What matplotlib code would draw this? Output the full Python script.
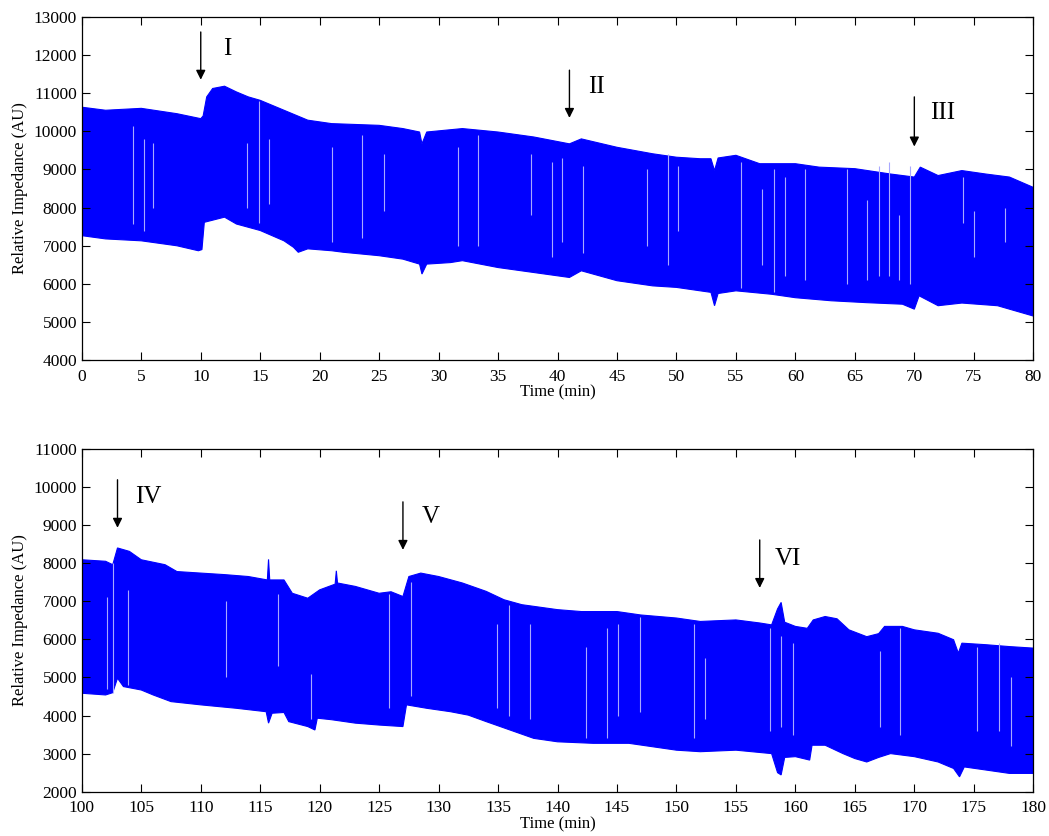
import numpy as np
import matplotlib.pyplot as plt

plt.rcParams['font.family'] = ['Liberation Serif', 'DejaVu Serif']

# ---- panel 1 (0-80 min) envelope of the impedance signal ----
top_up_t = [0, 2, 5, 8, 10, 10.2, 10.5, 11, 12, 13, 14, 15, 17, 19, 21, 25, 27, 28.4, 28.6, 29,
            32, 35, 38, 41, 42, 45, 48, 50, 52, 52.9, 53.2, 53.5, 55, 57, 60, 62, 65, 68, 70,
            70.5, 72, 74, 76, 78, 80]
top_up_v = [10630, 10550, 10600, 10460, 10330, 10400, 10900, 11120, 11180, 11030, 10900, 10810,
            10550, 10290, 10200, 10155, 10070, 9980, 9670, 9980, 10070, 9980, 9850, 9670, 9800,
            9580, 9410, 9320, 9280, 9280, 8970, 9300, 9370, 9150, 9150, 9060, 9020, 8880, 8800,
            9060, 8840, 8970, 8880, 8800, 8530]
top_lo_t = [0, 2, 5, 8, 9.8, 10.1, 10.3, 12, 13, 15, 17, 17.8, 18.2, 19, 21, 22, 25, 27, 28.4,
            28.6, 29, 31, 32, 35, 38, 41, 42, 45, 48, 50, 52, 52.9, 53.2, 53.5, 55, 58, 60, 63,
            66, 69, 70, 70.4, 72, 74, 77, 79, 80]
top_lo_v = [7265, 7180, 7130, 7000, 6870, 6900, 7615, 7750, 7570, 7400, 7130, 6960, 6830, 6920,
            6870, 6830, 6740, 6650, 6520, 6260, 6520, 6560, 6610, 6430, 6300, 6170, 6345, 6085,
            5950, 5910, 5820, 5780, 5430, 5750, 5820, 5730, 5640, 5560, 5510, 5470, 5340, 5690,
            5430, 5500, 5430, 5250, 5160]

# light gaps inside the band: time, low, high
top_gap_t = [4.3, 5.2, 6.0, 13.9, 14.9, 15.7, 21.0, 23.6, 25.4, 31.6, 33.3, 37.8, 39.5, 40.4,
             42.1, 47.5, 49.3, 50.1, 55.4, 57.2, 58.2, 59.1, 60.8, 64.3, 66.0, 67.0, 67.9,
             68.7, 69.6, 74.1, 75.0, 77.6]
top_gap_lo = [7570, 7400, 8000, 8000, 7600, 8100, 7100, 7200, 7900, 7000, 7000, 7800, 6700,
              7100, 6800, 7000, 6500, 7400, 5900, 6500, 5800, 6200, 6100, 6000, 6100, 6200,
              6200, 6100, 6000, 7600, 6700, 7100]
top_gap_hi = [10150, 9800, 9700, 9700, 10800, 9800, 9600, 9900, 9400, 9600, 9900, 9400, 9200,
              9300, 9100, 9000, 9400, 9100, 9200, 8500, 9000, 8800, 9000, 9000, 8200, 9100,
              9200, 7800, 9100, 8800, 7900, 8000]

# ---- panel 2 (100-180 min) ----
bot_up_t = [100, 102, 102.6, 103, 104, 105, 107, 108, 110, 112, 114, 115.6, 115.7, 115.8, 117,
            117.7, 119, 120, 121.3, 121.4, 121.5, 123, 125, 126, 127, 127.5, 128.5, 130, 132,
            134, 135.5, 137, 140, 142, 145, 147, 150, 152, 155, 157, 158, 158.5, 158.8, 159.1,
            160, 161, 161.5, 162.5, 163.5, 164.5, 166, 167, 167.5, 169, 170, 172, 173.3, 173.7,
            174, 176, 178, 180]
bot_up_v = [8090, 8050, 7960, 8400, 8310, 8090, 7960, 7780, 7740, 7700, 7650, 7560, 8100, 7560,
            7560, 7210, 7080, 7300, 7450, 7800, 7480, 7390, 7210, 7250, 7125, 7650, 7740, 7650,
            7480, 7260, 7040, 6910, 6780, 6730, 6730, 6640, 6560, 6470, 6510, 6430, 6380, 6800,
            6970, 6450, 6340, 6290, 6510, 6600, 6540, 6250, 6070, 6150, 6340, 6340, 6250, 6160,
            5990, 5640, 5900, 5860, 5810, 5770]
bot_lo_t = [100, 102, 102.6, 103, 103.5, 105, 106, 107.5, 110, 113, 115.5, 115.7, 116, 117,
            117.4, 119, 119.6, 119.8, 121, 123, 125, 127, 127.3, 129, 131, 132.5, 134, 136, 138,
            140, 143, 146, 148, 150, 152, 155, 158, 158.5, 158.8, 159.1, 160, 161.2, 161.4,
            162.5, 164, 165, 166, 167, 168, 170, 172, 173.3, 173.8, 174.2, 176, 178, 180]
bot_lo_v = [4585, 4540, 4600, 4980, 4760, 4670, 4540, 4365, 4280, 4190, 4100, 3800, 4060, 4080,
            3840, 3710, 3620, 3930, 3890, 3800, 3750, 3710, 4280, 4190, 4100, 4010, 3840, 3620,
            3400, 3310, 3270, 3270, 3180, 3090, 3050, 3090, 3000, 2500, 2440, 2900, 2920, 2830,
            3220, 3220, 3000, 2870, 2780, 2900, 3000, 2920, 2780, 2610, 2390, 2650, 2570, 2480,
            2480]

bot_gap_t = [102.1, 102.6, 103.9, 112.1, 116.5, 119.3, 125.8, 127.7, 134.9, 135.9, 137.7,
             142.4, 144.2, 145.1, 146.9, 151.5, 152.4, 157.9, 158.8, 159.8, 167.1, 168.8,
             175.3, 177.1, 178.1]
bot_gap_lo = [4700, 4600, 4800, 5000, 5300, 3900, 4200, 4500, 4200, 4000, 3900, 3400, 3400,
              4000, 4100, 3400, 3900, 3600, 3700, 3500, 3700, 3500, 3600, 3600, 3200]
bot_gap_hi = [7100, 8000, 7300, 7000, 7200, 5100, 7200, 7500, 6400, 6900, 6400, 5800, 6300,
              6400, 6600, 6400, 5500, 6300, 6100, 5900, 5700, 6300, 5800, 5900, 5000]

# event markers
top_events = ['I', 'II', 'III']
top_event_t = [10, 41, 70]
top_arrow_top = [12600, 11600, 10900]
top_arrow_tip = [11350, 10350, 9600]
top_label_t = [12.2, 43.3, 72.4]
top_label_v = [12150, 11150, 10480]

bot_events = ['IV', 'V', 'VI']
bot_event_t = [103, 127, 157]
bot_arrow_top = [10190, 9610, 8610]
bot_arrow_tip = [8930, 8350, 7350]
bot_label_t = [105.6, 129.3, 159.4]
bot_label_v = [9750, 9200, 8100]

blue = '#0000ff'
gap_col = '#a8a8ff'


def draw_panel(ax, up_t, up_v, lo_t, lo_v, gap_t, gap_lo, gap_hi,
               names, ev_t, ar_top, ar_tip, lab_t, lab_v):
    px = list(up_t) + list(lo_t)[::-1]
    py = list(up_v) + list(lo_v)[::-1]
    ax.fill(px, py, color=blue, lw=0.8, ec=blue)
    ax.vlines(gap_t, gap_lo, gap_hi, colors=gap_col, lw=0.8)
    for n, t, a, b, lt, lv in zip(names, ev_t, ar_top, ar_tip, lab_t, lab_v):
        ax.annotate('', xy=(t, b), xytext=(t, a),
                    arrowprops=dict(arrowstyle='-|>', color='k', lw=1.0,
                                    mutation_scale=14, shrinkA=0, shrinkB=0))
        ax.text(lt, lv, n, fontsize=18, ha='center', va='center')
    ax.tick_params(direction='in', top=True, right=True, length=6,
                   labelsize=12.5, width=0.8)
    ax.tick_params(axis='x', pad=6)
    for s in ax.spines.values():
        s.set_linewidth(0.9)
    ax.set_xlabel('Time (min)', fontsize=12, labelpad=0)
    ax.set_ylabel('Relative Impedance (AU)', fontsize=12, labelpad=4)


fig = plt.figure(figsize=(10.49, 8.36), dpi=100)
ax1 = fig.add_axes([0.078, 0.569, 0.907, 0.411])
ax2 = fig.add_axes([0.078, 0.053, 0.907, 0.410])

draw_panel(ax1, top_up_t, top_up_v, top_lo_t, top_lo_v, top_gap_t, top_gap_lo, top_gap_hi,
           top_events, top_event_t, top_arrow_top, top_arrow_tip, top_label_t, top_label_v)
ax1.set_xlim(0, 80)
ax1.set_ylim(4000, 13000)
ax1.set_xticks(np.arange(0, 81, 5))
ax1.set_yticks(np.arange(4000, 13001, 1000))

draw_panel(ax2, bot_up_t, bot_up_v, bot_lo_t, bot_lo_v, bot_gap_t, bot_gap_lo, bot_gap_hi,
           bot_events, bot_event_t, bot_arrow_top, bot_arrow_tip, bot_label_t, bot_label_v)
ax2.set_xlim(100, 180)
ax2.set_ylim(2000, 11000)
ax2.set_xticks(np.arange(100, 181, 5))
ax2.set_yticks(np.arange(2000, 11001, 1000))

fig.savefig('out.png', dpi=100)
